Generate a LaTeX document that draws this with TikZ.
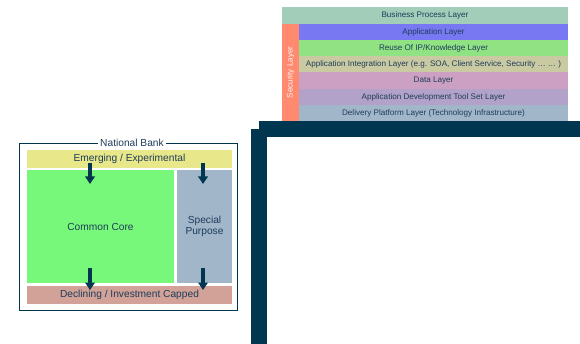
\documentclass[tikz,border=0pt]{standalone}
\usepackage{fontspec}
\setmainfont{Liberation Sans}
\usetikzlibrary{arrows.meta}
\definecolor{navy}{HTML}{003650}
\definecolor{txt}{HTML}{1E3C5A}
\definecolor{cBP}{HTML}{A2CDB9}
\definecolor{cApp}{HTML}{7878F2}
\definecolor{cReuse}{HTML}{90E283}
\definecolor{cInt}{HTML}{CACAA2}
\definecolor{cData}{HTML}{CCA0C2}
\definecolor{cTool}{HTML}{B2A2CA}
\definecolor{cDel}{HTML}{A2B6CA}
\definecolor{cSec}{HTML}{FF8A70}
\definecolor{cEm}{HTML}{E8E88A}
\definecolor{cCore}{HTML}{78F87A}
\definecolor{cSP}{HTML}{A2B6CA}
\definecolor{cDec}{HTML}{D2A298}
\tikzset{
  layerbox/.style={anchor=north west, inner sep=0pt, outer sep=0pt, text=txt, font=\fontsize{8.1}{9}\selectfont},
  bankbox/.style={anchor=north west, inner sep=0pt, outer sep=0pt, text=txt, font=\fontsize{10.2}{11.5}\selectfont, align=center},
  darkbar/.style={fill=navy, draw=none},
  arr/.style={draw=navy, line width=3.2pt, -{Triangle[width=9.5pt,length=7.5pt]}}
}
\begin{document}
\begin{tikzpicture}[x=1pt,y=-1pt]
\useasboundingbox (0,0) rectangle (580,344);
% stack of layers
\node[layerbox, fill=cBP, minimum width=286pt, minimum height=17pt] (bp) at (282,7) {Business Process Layer};
\node[layerbox, fill=cSec, minimum width=17pt, minimum height=97pt] (sec) at (282,24) {};
\node[text=white!90!cSec, rotate=90, font=\fontsize{8.1}{9}\selectfont, inner sep=0pt] (seclbl) at (sec.center) {Security Layer};
\node[layerbox, fill=cApp, minimum width=269pt, minimum height=16pt] (app) at (299,24) {Application Layer};
\node[layerbox, fill=cReuse, minimum width=269pt, minimum height=16pt] (reuse) at (299,40) {Reuse Of IP/Knowledge Layer};
\node[layerbox, fill=cInt, minimum width=269pt, minimum height=16pt] (int) at (299,56) {Application Integration Layer (e.g. SOA, Client Service, Security … … )};
\node[layerbox, fill=cData, minimum width=269pt, minimum height=17pt] (data) at (299,72) {Data Layer};
\node[layerbox, fill=cTool, minimum width=269pt, minimum height=16pt] (tool) at (299,89) {Application Development Tool Set Layer};
\node[layerbox, fill=cDel, minimum width=269pt, minimum height=16pt] (del) at (299,105) {Delivery Platform Layer (Technology Infrastructure)};
% dark frame
\node[darkbar, anchor=north west, inner sep=0pt, minimum width=321pt, minimum height=16pt] (topbar) at (259,121) {};
\node[darkbar, anchor=north west, inner sep=0pt, minimum width=16pt, minimum height=215pt] (leftbar) at (251,129) {};
% National Bank
\node[draw=navy, line width=0.8pt, anchor=north west, inner sep=0pt, minimum width=218pt, minimum height=167pt] (frame) at (19,143) {};
\node[fill=white, text=txt, font=\fontsize{10.2}{11.5}\selectfont, inner sep=2.5pt] (title) at (132,142.5) {National Bank};
\node[bankbox, fill=cEm, minimum width=205pt, minimum height=18pt] (em) at (27,150) {Emerging / Experimental};
\node[bankbox, fill=cCore, minimum width=147pt, minimum height=113pt] (core) at (27,170) {Common Core};
\node[bankbox, fill=cSP, minimum width=55pt, minimum height=113pt] (sp) at (177,170) {Special\\Purpose};
\node[bankbox, fill=cDec, minimum width=205pt, minimum height=18pt] (dec) at (27,286) {Declining / Investment Capped};
% arrows
\coordinate (a1s) at (90,163); \coordinate (a1e) at (90,184);
\coordinate (a2s) at (203,163); \coordinate (a2e) at (203,184);
\coordinate (a3s) at (90,268); \coordinate (a3e) at (90,290);
\coordinate (a4s) at (203,268); \coordinate (a4e) at (203,290);
\draw[arr] (a1s) -- (a1e);
\draw[arr] (a2s) -- (a2e);
\draw[arr] (a3s) -- (a3e);
\draw[arr] (a4s) -- (a4e);
\end{tikzpicture}
\end{document}
